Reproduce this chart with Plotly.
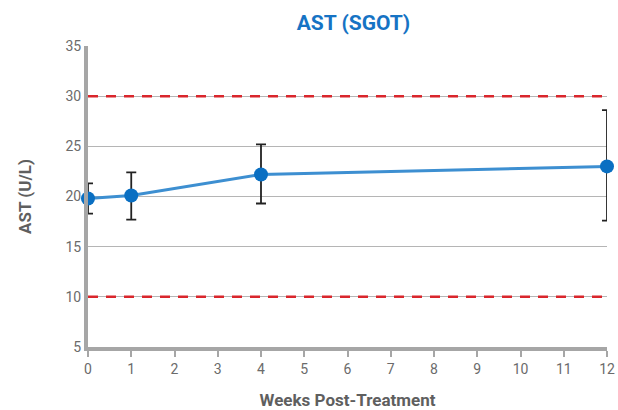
import plotly.graph_objects as go

weeks = [0, 1, 4, 12]
ast_mean = [19.8, 20.1, 22.2, 23.0]
err_plus = [1.5, 2.3, 3.0, 5.6]
err_minus = [1.5, 2.4, 2.9, 5.4]
ref_low = 10
ref_high = 30
x_ticks = list(range(0, 13))
y_ticks = [5, 10, 15, 20, 25, 30, 35]

FONT = "Roboto, sans-serif"

fig = go.Figure()

for ref in [ref_low, ref_high]:
    fig.add_trace(go.Scatter(
        x=[0, 12], y=[ref, ref], mode="lines",
        line=dict(color="#d9262c", width=2.5, dash="10px,8px"),
        hoverinfo="skip", showlegend=False, cliponaxis=False))

fig.add_trace(go.Scatter(
    x=weeks, y=ast_mean, mode="lines+markers",
    line=dict(color="#3d8fd1", width=3),
    marker=dict(color="#0a6fc2", size=14),
    error_y=dict(type="data", symmetric=False, array=err_plus, arrayminus=err_minus,
                 color="#222222", thickness=1.8, width=5),
    cliponaxis=False, showlegend=False))

fig.update_layout(
    width=618, height=410,
    margin=dict(l=88, r=11, t=46, b=63),
    paper_bgcolor="white", plot_bgcolor="white",
    title=dict(text="<b>AST (SGOT)</b>", x=0.572, xanchor="center", y=0.945, yanchor="middle",
               font=dict(family=FONT, size=21, color="#1673c4")),
    xaxis=dict(range=[0, 12], tickvals=x_ticks, showgrid=False, zeroline=False,
               automargin=False,
               showline=True, linecolor="#a6a6a6", linewidth=4,
               ticks="outside", ticklen=6, tickcolor="#a6a6a6", tickwidth=1.5,
               tickfont=dict(family=FONT, size=14, color="#6b6b6b"),
               title=dict(text="<b>Weeks Post-Treatment</b>", standoff=19,
                          font=dict(family=FONT, size=17, color="#5f5f5f"))),
    yaxis=dict(range=[5, 35], tickvals=y_ticks, showgrid=True, gridcolor="#b5b5b5", gridwidth=1,
               zeroline=False, showline=True, linecolor="#a6a6a6", linewidth=4,
               automargin=False,
               ticks="", ticklen=0,
               tickfont=dict(family=FONT, size=14, color="#6b6b6b"),
               title=dict(text="<b>AST (U/L)</b>", standoff=31,
                          font=dict(family=FONT, size=17, color="#5f5f5f"))),
)

fig.write_html("out.html", config={"displayModeBar": False},
               post_script="document.body.style.margin='0px';document.body.style.overflow='hidden';")
